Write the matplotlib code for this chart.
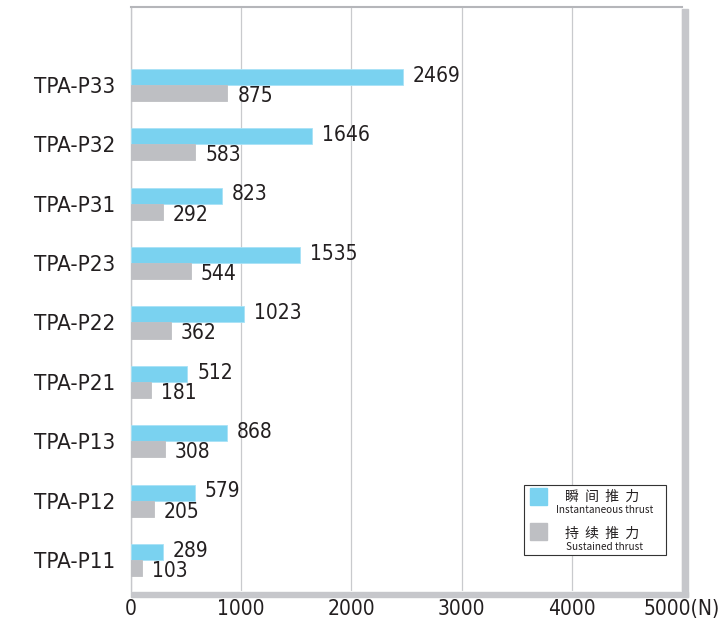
import matplotlib
matplotlib.use("Agg")
import matplotlib.pyplot as plt
from matplotlib.patches import Rectangle
import numpy as np

plt.rcParams['font.family'] = ['DejaVu Sans']
plt.rcParams['font.stretch'] = 'condensed'

# data (bottom to top)
models = ["TPA-P11", "TPA-P12", "TPA-P13", "TPA-P21", "TPA-P22",
          "TPA-P23", "TPA-P31", "TPA-P32", "TPA-P33"]
instant = [289, 579, 868, 512, 1023, 1535, 823, 1646, 2469]
sustained = [103, 205, 308, 181, 362, 544, 292, 583, 875]
xticks = [0, 1000, 2000, 3000, 4000, 5000]
xticklabels = ["0", "1000", "2000", "3000", "4000", "5000(N)"]

blue = "#7AD2F0"
grey = "#BEBFC3"
frame = "#C6C7CB"
txt = "#231F20"

W, H = 727, 619
fig = plt.figure(figsize=(W / 100, H / 100), dpi=100)
ax = fig.add_axes([131 / W, 1 - 591 / H, 551 / W, 584 / H])

y = np.arange(len(models))
h = 0.27
ax.barh(y + h / 2, instant, height=h, color=blue, edgecolor="#A8E2F6", linewidth=0.6, zorder=3)
ax.barh(y - h / 2, sustained, height=h, color=grey, edgecolor=grey, linewidth=0.6, zorder=3)

for yi, v in zip(y, instant):
    ax.text(v + 90, yi + h / 2 + 0.02, str(v), va="center", ha="left", fontsize=15, color=txt)
for yi, v in zip(y, sustained):
    ax.text(v + 90, yi - h / 2 - 0.05, str(v), va="center", ha="left", fontsize=15, color=txt)

ax.set_xlim(0, 5000)
ax.set_ylim(-0.52, 9.31)
ax.set_yticks(y)
ax.set_yticklabels(models, fontsize=16, color=txt)
ax.set_xticks(xticks)
ax.set_xticklabels(xticklabels, fontsize=15, color=txt)
ax.tick_params(axis="both", length=0)
ax.tick_params(axis="y", pad=11)
ax.tick_params(axis="x", pad=6)
ax.grid(axis="x", color="#C9CACD", linewidth=0.9, zorder=0)

for s in ["right", "bottom"]:
    ax.spines[s].set_visible(False)
ax.spines["left"].set_color(frame)
ax.spines["left"].set_linewidth(1.0)
ax.spines["top"].set_color("#B5B6BA")
ax.spines["top"].set_linewidth(1.5)

# shadow frame (right and bottom)
fig.patches.append(Rectangle((682 / W, 1 - 597 / H), 6 / W, 588 / H,
                             transform=fig.transFigure, color=frame, zorder=5))
fig.patches.append(Rectangle((131 / W, 1 - 597 / H), 557 / W, 5 / H,
                             transform=fig.transFigure, color=frame, zorder=5))

# legend box
lx0, ly0, lw, lh = 524, 485, 142, 70
fig.patches.append(Rectangle((lx0 / W, 1 - (ly0 + lh) / H), lw / W, lh / H,
                             transform=fig.transFigure, facecolor="white",
                             edgecolor="#333333", linewidth=0.8, zorder=6))
fig.patches.append(Rectangle((530 / W, 1 - 505 / H), 17 / W, 17 / H,
                             transform=fig.transFigure, color=blue, zorder=7))
fig.patches.append(Rectangle((530 / W, 1 - 540 / H), 17 / W, 17 / H,
                             transform=fig.transFigure, color=grey, zorder=7))
cjk = ['Noto Sans CJK SC', 'DejaVu Sans']
fig.text(602 / W, 1 - 497 / H, "瞬  间  推  力", family=cjk, fontsize=10,
         ha="center", va="center", color=txt, zorder=8)
fig.text(605 / W, 1 - 510 / H, "Instantaneous thrust", family=cjk, fontsize=7.2,
         stretch="condensed", ha="center", va="center", color=txt, zorder=8)
fig.text(602 / W, 1 - 534 / H, "持  续  推  力", family=cjk, fontsize=10,
         ha="center", va="center", color=txt, zorder=8)
fig.text(605 / W, 1 - 547 / H, "Sustained thrust", family=cjk, fontsize=7.2,
         stretch="condensed", ha="center", va="center", color=txt, zorder=8)

fig.savefig("out.png", dpi=100)
